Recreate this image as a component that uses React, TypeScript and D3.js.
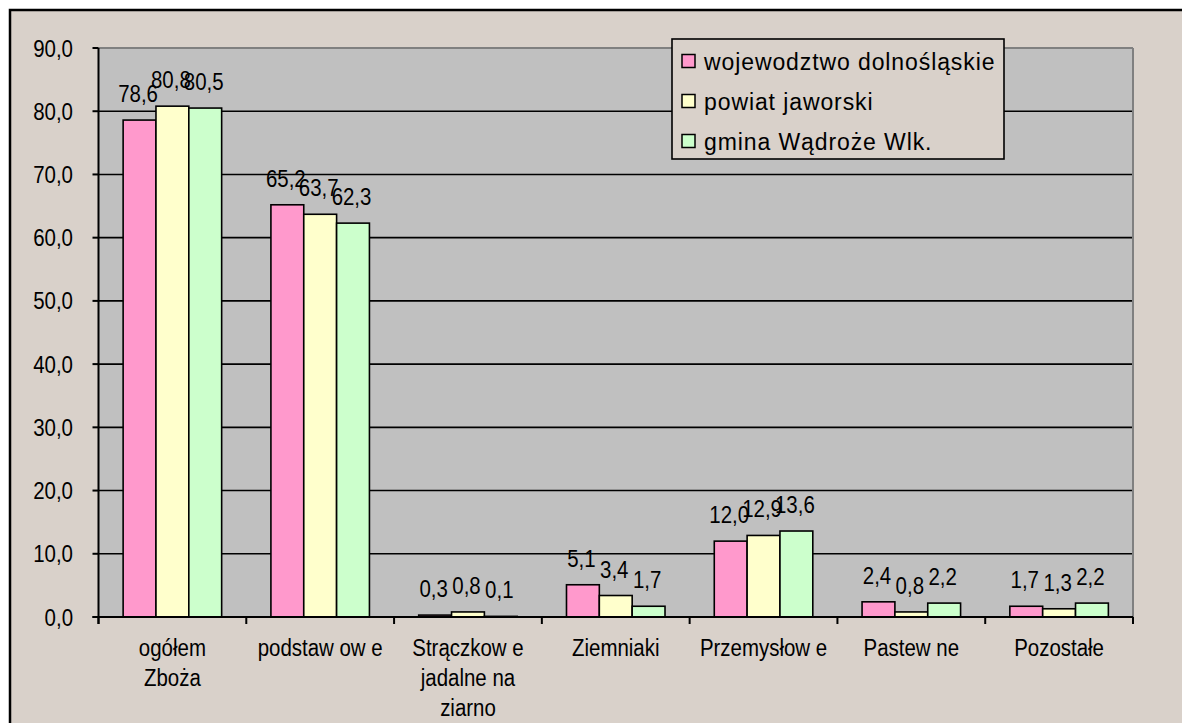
import React from "react";
import * as d3 from "d3";

const categories: string[][] = [
  ["ogółem", "Zboża"],
  ["podstaw ow e"],
  ["Strączkow e", "jadalne na", "ziarno"],
  ["Ziemniaki"],
  ["Przemysłow e"],
  ["Pastew ne"],
  ["Pozostałe"],
];
const seriesNames = ["wojewodztwo dolnośląskie", "powiat jaworski", "gmina Wądroże Wlk."];
const wojewodztwo = [78.6, 65.2, 0.3, 5.1, 12.0, 2.4, 1.7];
const powiat = [80.8, 63.7, 0.8, 3.4, 12.9, 0.8, 1.3];
const gmina = [80.5, 62.3, 0.1, 1.7, 13.6, 2.2, 2.2];
const yTicks = [0, 10, 20, 30, 40, 50, 60, 70, 80, 90];
const colors = ["#ff99cc", "#ffffcc", "#ccffcc"];

const values = [wojewodztwo, powiat, gmina];
const FONT = "'Liberation Sans', Arial, sans-serif";
const BG = "#d9d1ca";
const FS = 23.5;
const SX = 0.87;

function T({ x, y, anchor = "middle", children }: { x: number; y: number; anchor?: string; children: React.ReactNode }) {
  return (
    <g transform={`translate(${x},${y}) scale(${SX},1)`}>
      <text x={0} y={0} textAnchor={anchor} fontSize={FS} fill="#000">{children}</text>
    </g>
  );
}

export default function App() {
  const left = 98.5, right = 1133, top = 48, bottom = 617;
  const catKeys = categories.map((_, i) => String(i));
  const x0 = d3.scaleBand<string>().domain(catKeys).range([left, right]).padding(0);
  const bw = x0.bandwidth();
  const x1 = d3.scaleBand<string>().domain(seriesNames).range([bw / 6, bw - bw / 6]).padding(0);
  const y = d3.scaleLinear().domain([0, 90]).range([bottom, top]);
  const fmt = (v: number) => v.toFixed(1).replace(".", ",");

  return (
    <svg width={1182} height={723} style={{ position: "absolute", left: 0, top: 0 }} fontFamily={FONT}>
      <rect x={0} y={0} width={1182} height={723} fill="#ffffff" />
      <rect x={10} y={10} width={1400} height={900} fill={BG} stroke="#000" strokeWidth={2.5} />
      <rect x={left} y={top} width={right - left} height={bottom - top} fill="#c0c0c0" />
      {yTicks.filter((t) => t > 0 && t < 90).map((t) => (
        <line key={t} x1={left} x2={right} y1={y(t)} y2={y(t)} stroke="#000" strokeWidth={1.6} />
      ))}
      <line x1={left} x2={right} y1={top} y2={top} stroke="#808080" strokeWidth={2} />
      <line x1={right} x2={right} y1={top} y2={bottom} stroke="#808080" strokeWidth={2} />
      {catKeys.map((k, ci) =>
        seriesNames.map((s, si) => {
          const v = values[si][ci];
          const bx = (x0(k) as number) + (x1(s) as number);
          return (
            <rect key={k + s} x={bx} y={y(v)} width={x1.bandwidth()} height={bottom - y(v)}
              fill={colors[si]} stroke="#000" strokeWidth={1.6} />
          );
        })
      )}
      {catKeys.map((k, ci) =>
        seriesNames.map((s, si) => {
          const v = values[si][ci];
          const cx = (x0(k) as number) + (x1(s) as number) + x1.bandwidth() / 2;
          return <T key={"l" + k + s} x={cx - 1.5} y={y(v) - 18}>{fmt(v)}</T>;
        })
      )}
      <line x1={left} x2={left} y1={top} y2={bottom + 7} stroke="#000" strokeWidth={2} />
      <line x1={left - 6} x2={right} y1={bottom} y2={bottom} stroke="#000" strokeWidth={2} />
      {yTicks.map((t) => (
        <g key={"yt" + t}>
          <line x1={left - 6} x2={left} y1={y(t)} y2={y(t)} stroke="#000" strokeWidth={2} />
          <T x={73} y={y(t) + 8.5} anchor="end">{fmt(t)}</T>
        </g>
      ))}
      {[...catKeys.map((k) => x0(k) as number), right].map((xx, i) => (
        <line key={"xt" + i} x1={xx} x2={xx} y1={bottom} y2={bottom + 7} stroke="#000" strokeWidth={2} />
      ))}
      {catKeys.map((k, ci) =>
        categories[ci].map((line, li) => (
          <T key={"c" + k + li} x={(x0(k) as number) + bw / 2} y={656 + li * 30}>{line}</T>
        ))
      )}
      <rect x={672} y={39} width={332} height={120} fill={BG} stroke="#000" strokeWidth={1.6} />
      {seriesNames.map((s, si) => (
        <g key={"lg" + s}>
          <rect x={682} y={54.5 + si * 40} width={13} height={13} fill={colors[si]} stroke="#000" strokeWidth={1.5} />
          <text x={704} y={69.5 + si * 40} fontSize={23} letterSpacing={0.9} fill="#000">{s}</text>
        </g>
      ))}
    </svg>
  );
}
